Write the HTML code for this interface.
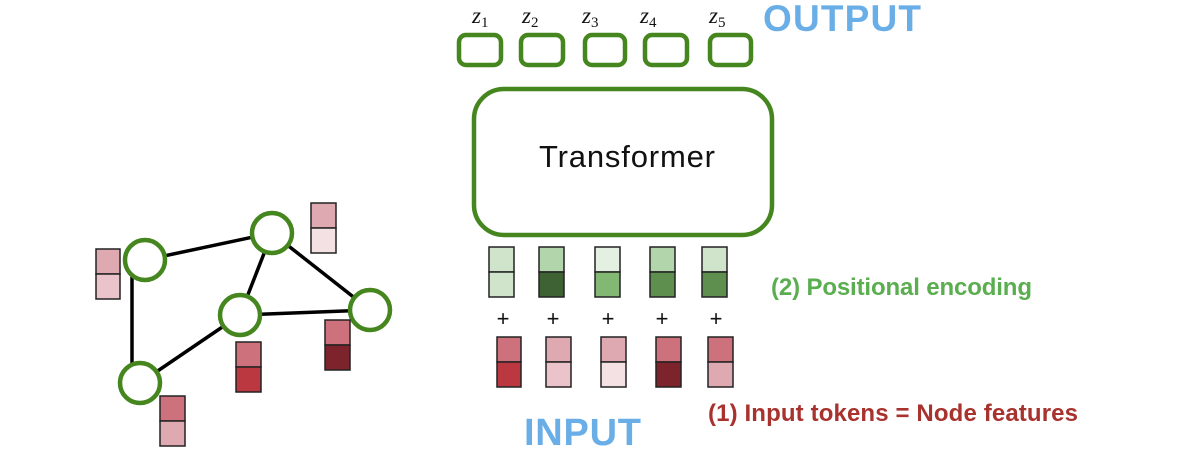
<!DOCTYPE html>
<html><head><meta charset="utf-8"><style>html,body{margin:0;padding:0;background:#fff}svg{display:block}</style></head>
<body>
<svg width="1194" height="459" viewBox="0 0 1194 459" xmlns="http://www.w3.org/2000/svg" font-family="Liberation Sans, sans-serif">
<g stroke="#000" stroke-width="3.5">
<line x1="145" y1="260" x2="272" y2="233"/>
<line x1="272" y1="233" x2="240" y2="315"/>
<line x1="272" y1="233" x2="370" y2="310"/>
<line x1="240" y1="315" x2="370" y2="310"/>
<line x1="240" y1="315" x2="140" y2="383"/>
<line x1="132" y1="260" x2="132" y2="383"/>
</g>
<g fill="#fff" stroke="#46861f" stroke-width="4.5">
<circle cx="145" cy="260" r="20"/>
<circle cx="272" cy="233" r="20"/>
<circle cx="240" cy="315" r="20"/>
<circle cx="370" cy="310" r="20"/>
<circle cx="140" cy="383" r="20"/>
</g>
<g stroke="#222" stroke-width="1.5">
<rect x="96" y="249" width="24" height="25" fill="#dfa9b1"/><rect x="96" y="274" width="24" height="25" fill="#ebc4cb"/>
<rect x="311" y="203" width="25" height="25" fill="#dfa9b1"/><rect x="311" y="228" width="25" height="25" fill="#f3e1e4"/>
<rect x="236" y="342" width="25" height="25" fill="#cd727c"/><rect x="236" y="367" width="25" height="25" fill="#bb3841"/>
<rect x="325" y="320" width="25" height="25" fill="#cd727c"/><rect x="325" y="345" width="25" height="25" fill="#7d232c"/>
<rect x="160" y="396" width="25" height="25" fill="#cd727c"/><rect x="160" y="421" width="25" height="25" fill="#dfa9b1"/>
<rect x="489" y="247" width="25" height="25" fill="#cfe4cb"/><rect x="489" y="272" width="25" height="25" fill="#cfe4cb"/>
<rect x="539" y="247" width="25" height="25" fill="#b3d5ab"/><rect x="539" y="272" width="25" height="25" fill="#3f6234"/>
<rect x="595" y="247" width="25" height="25" fill="#e4f0e1"/><rect x="595" y="272" width="25" height="25" fill="#83b874"/>
<rect x="650" y="247" width="25" height="25" fill="#b3d5ab"/><rect x="650" y="272" width="25" height="25" fill="#5e8f4f"/>
<rect x="702" y="247" width="25" height="25" fill="#cfe4cb"/><rect x="702" y="272" width="25" height="25" fill="#5e8f4f"/>
<rect x="497" y="337" width="24" height="25" fill="#cd727c"/><rect x="497" y="362" width="24" height="25" fill="#bb3841"/>
<rect x="546" y="337" width="25" height="25" fill="#dfa9b1"/><rect x="546" y="362" width="25" height="25" fill="#ebc4cb"/>
<rect x="601" y="337" width="25" height="25" fill="#dfa9b1"/><rect x="601" y="362" width="25" height="25" fill="#f3e1e4"/>
<rect x="656" y="337" width="25" height="25" fill="#cd727c"/><rect x="656" y="362" width="25" height="25" fill="#7d232c"/>
<rect x="708" y="337" width="25" height="25" fill="#cd727c"/><rect x="708" y="362" width="25" height="25" fill="#dfa9b1"/>
</g>
<g font-size="22" text-anchor="middle" fill="#111">
<text x="503" y="326">+</text><text x="553" y="326">+</text><text x="608" y="326">+</text><text x="662" y="326">+</text><text x="716" y="326">+</text>
</g>
<g fill="#fff" stroke="#46861f" stroke-width="4.5">
<rect x="459" y="35" width="42" height="30" rx="7"/>
<rect x="521" y="35" width="42" height="30" rx="7"/>
<rect x="585" y="35" width="40" height="30" rx="7"/>
<rect x="645" y="35" width="42" height="30" rx="7"/>
<rect x="710" y="35" width="41" height="30" rx="7"/>
<rect x="474" y="89" width="298" height="146" rx="30"/>
</g>
<g font-family="Liberation Serif, serif" font-style="italic" font-size="23" fill="#111">
<text x="472" y="23">z<tspan font-size="15" font-style="normal" dy="4">1</tspan></text>
<text x="522" y="23">z<tspan font-size="15" font-style="normal" dy="4">2</tspan></text>
<text x="582" y="23">z<tspan font-size="15" font-style="normal" dy="4">3</tspan></text>
<text x="640" y="23">z<tspan font-size="15" font-style="normal" dy="4">4</tspan></text>
<text x="709" y="23">z<tspan font-size="15" font-style="normal" dy="4">5</tspan></text>
</g>
<text x="627" y="167" font-size="31" text-anchor="middle" fill="#111" textLength="176">Transformer</text>
<text x="763" y="31" font-size="37" font-weight="bold" fill="#6aaee8" textLength="158">OUTPUT</text>
<text x="524" y="445" font-size="38" font-weight="bold" fill="#6aaee8" textLength="117">INPUT</text>
<text x="771" y="295" font-size="24" font-weight="bold" fill="#5aae50" textLength="261">(2) Positional encoding</text>
<text x="708" y="421" font-size="24" font-weight="bold" fill="#a8322d" textLength="370">(1) Input tokens = Node features</text>
</svg>
</body></html>
